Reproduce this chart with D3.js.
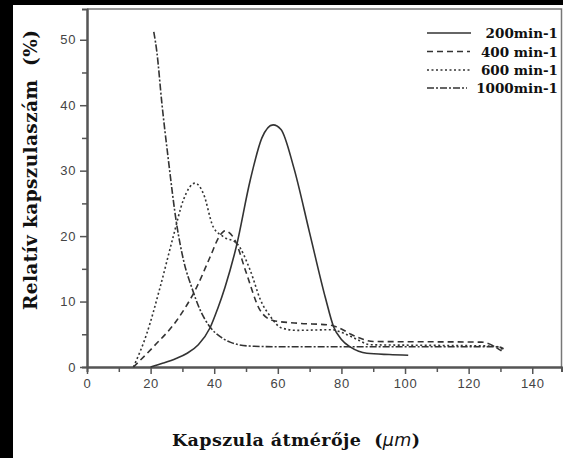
<!DOCTYPE html>
<html>
<head>
<meta charset="utf-8">
<script src="https://cdn.jsdelivr.net/npm/d3@7"></script>
<style>
  body { margin: 0; background: #000; }
  svg { display: block; }
</style>
</head>
<body>
<script>
// capsule diameter (µm) vs relative capsule count (%), one array pair per stirring speed
var x200 = [20, 24, 28, 31.5, 35, 38.7, 41, 43.4, 47, 51.3, 55, 58.5, 61, 65, 70, 75, 77.5, 80, 83, 88, 95, 101];
var y200 = [0, 0.6, 1.3, 2.1, 3.4, 6, 8.8, 12.2, 18.5, 28.5, 35, 37, 36.3, 30.5, 20.5, 10.5, 6.2, 4.2, 3, 2.1, 1.9, 1.8];

var x400 = [14.6, 20.9, 28.2, 34.5, 38.7, 41.8, 43.4, 46.5, 50, 54.4, 58.5, 66, 76.5, 80, 83, 87, 90, 124, 127.5, 130.5];
var y400 = [0, 3.1, 7.1, 12.2, 16.8, 20.1, 20.8, 19.4, 14.5, 8.7, 7.1, 6.7, 6.4, 5.8, 5, 4.2, 3.9, 3.8, 3.3, 2.4];

var x600 = [14.6, 18.8, 23, 27.1, 30.3, 34, 36.6, 39.7, 42.9, 47.1, 51.3, 54.6, 58, 61, 66, 77, 80, 85, 89, 110, 128, 131];
var y600 = [0, 5.1, 12.2, 19.9, 25.5, 28.1, 26.5, 21.4, 19.9, 18.9, 14.8, 10.2, 7.5, 6, 5.6, 5.7, 5.3, 4.2, 3.4, 3.3, 3.2, 2.6];

var x1000 = [21, 22, 23.5, 25.6, 28.2, 30.5, 32.9, 35.5, 38.7, 42, 45, 51, 60, 80, 100, 120, 129, 131];
var y1000 = [51.2, 48, 40.5, 31.6, 21.8, 16, 12.2, 8.8, 6.1, 4.6, 3.8, 3.2, 3.1, 3.1, 3.1, 3.1, 3.1, 2.8];

var seriesNames = ["200min-1", "400 min-1", "600 min-1", "1000min-1"];
var xTicks = [0, 20, 40, 60, 80, 100, 120, 140];
var yTicks = [0, 10, 20, 30, 40, 50];

function main() {
    var W = 563, H = 458;
    var margin = {top: 9, right: 1.5, bottom: 91, left: 87};
    var width = W - margin.left - margin.right,
        height = H - margin.top - margin.bottom;

    var svg = d3.select("body").append("svg")
        .attr("width", W)
        .attr("height", H);

    // white page on black
    svg.append("rect").attr("x", 13).attr("y", 5)
        .attr("width", W - 13).attr("height", H - 5)
        .attr("fill", "#fff");

    var g = svg.append("g")
        .attr("transform", "translate(" + margin.left + "," + margin.top + ")");

    var xScale = d3.scaleLinear().domain([0, 149.2]).range([0, width]);
    var yScale = d3.scaleLinear().domain([0, 54.7]).range([height, 0]);

    var axisColor = "#555";

    // frame top/right
    g.append("path")
        .attr("d", "M0,0H" + width + "V" + height)
        .attr("fill", "none").attr("stroke", "#777").attr("stroke-width", 1.5);

    // minor ticks
    var xAxisMinor = d3.axisBottom(xScale).tickValues(d3.range(10, 149, 20)).tickSize(5).tickFormat("");
    var yAxisMinor = d3.axisLeft(yScale).tickValues(d3.range(5, 54, 10)).tickSize(5).tickFormat("");
    g.append("g").attr("class", "ax").attr("transform", "translate(0," + height + ")").call(xAxisMinor);
    g.append("g").attr("class", "ax").call(yAxisMinor);

    var xAxis = d3.axisBottom(xScale).tickValues(xTicks).tickSize(7).tickPadding(5).tickSizeOuter(0);
    var yAxis = d3.axisLeft(yScale).tickValues(yTicks).tickSize(7).tickPadding(4).tickSizeOuter(0);
    g.append("g").attr("class", "ax").attr("transform", "translate(0," + height + ")").call(xAxis);
    g.append("g").attr("class", "ax").call(yAxis);

    g.selectAll(".ax .domain").attr("stroke", axisColor).attr("stroke-width", 2);
    g.selectAll(".ax .tick line").attr("stroke", axisColor).attr("stroke-width", 1.5);
    g.selectAll(".ax text")
        .attr("font-family", "'Liberation Sans', Arial, sans-serif")
        .attr("font-size", 13)
        .attr("letter-spacing", 0.6)
        .attr("fill", "#444");

    // curves
    var styles = [
        {dash: null, xs: x200, ys: y200},
        {dash: "6,4", xs: x400, ys: y400},
        {dash: "2,2.5", xs: x600, ys: y600},
        {dash: "7,2,2,2", xs: x1000, ys: y1000}
    ];

    var line = d3.line()
        .x(function(d) { return xScale(d[0]); })
        .y(function(d) { return yScale(d[1]); })
        .curve(d3.curveMonotoneX);

    styles.forEach(function(s) {
        var pts = s.xs.map(function(v, i) { return [v, s.ys[i]]; });
        g.append("path")
            .datum(pts)
            .attr("d", line)
            .attr("fill", "none")
            .attr("stroke", "#333")
            .attr("stroke-width", 1.6)
            .attr("stroke-dasharray", s.dash);
    });

    // legend
    var leg = svg.append("g");
    var rowsY = [33, 51.5, 70, 88];
    var lineEnds = [471, 470, 470, 467];
    styles.forEach(function(s, i) {
        leg.append("line")
            .attr("x1", 427).attr("x2", lineEnds[i])
            .attr("y1", rowsY[i]).attr("y2", rowsY[i])
            .attr("stroke", "#333").attr("stroke-width", 1.6)
            .attr("stroke-dasharray", s.dash);
        leg.append("text")
            .attr("x", 558).attr("y", rowsY[i] + 5)
            .attr("text-anchor", "end")
            .attr("font-family", "'DejaVu Serif', serif")
            .attr("font-weight", "bold")
            .attr("font-size", 13.5)
            .attr("fill", "#111")
            .text(seriesNames[i]);
    });

    // axis titles
    var xt = svg.append("text")
        .attr("x", 172).attr("y", 446)
        .attr("font-family", "'DejaVu Serif', serif")
        .attr("font-weight", "bold")
        .attr("font-size", 17.5)
        .attr("fill", "#111")
        .attr("textLength", 248)
        .attr("lengthAdjust", "spacing");
    xt.append("tspan").text("Kapszula átmérője\u00a0\u00a0(");
    xt.append("tspan").attr("font-family", "'DejaVu Sans', sans-serif")
        .attr("font-style", "italic").attr("font-weight", "normal").text("µm");
    xt.append("tspan").text(")");

    svg.append("text")
        .attr("transform", "translate(37,310) rotate(-90)")
        .attr("font-family", "'DejaVu Serif', serif")
        .attr("font-weight", "bold")
        .attr("font-size", 18.5)
        .attr("fill", "#111")
        .attr("textLength", 280)
        .attr("lengthAdjust", "spacing")
        .text("Relatív kapszulaszám\u00a0\u00a0(%)");
}
main();
</script>
</body>
</html>
